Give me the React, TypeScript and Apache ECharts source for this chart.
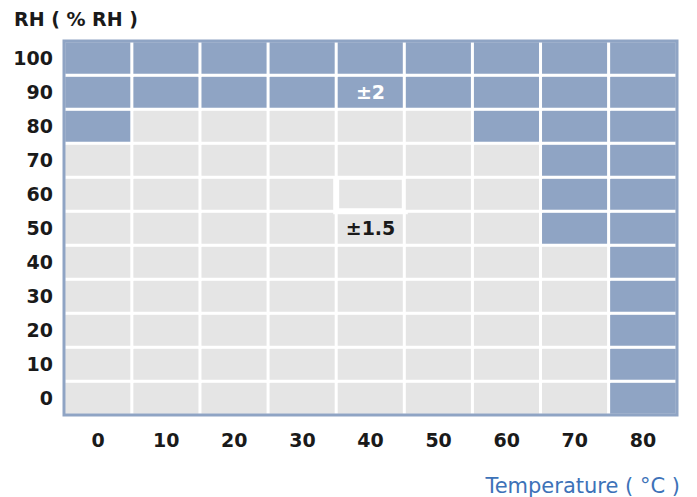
import React, { useEffect, useRef } from "react";
import * as echarts from "echarts";

const temps = ["0", "10", "20", "30", "40", "50", "60", "70", "80"];
const rhs = ["0", "10", "20", "30", "40", "50", "60", "70", "80", "90", "100"];
// For each RH row (bottom to top), the accuracy (±) per temperature column
const row0 = [1.5, 1.5, 1.5, 1.5, 1.5, 1.5, 1.5, 1.5, 2];
const row10 = [1.5, 1.5, 1.5, 1.5, 1.5, 1.5, 1.5, 1.5, 2];
const row20 = [1.5, 1.5, 1.5, 1.5, 1.5, 1.5, 1.5, 1.5, 2];
const row30 = [1.5, 1.5, 1.5, 1.5, 1.5, 1.5, 1.5, 1.5, 2];
const row40 = [1.5, 1.5, 1.5, 1.5, 1.5, 1.5, 1.5, 1.5, 2];
const row50 = [1.5, 1.5, 1.5, 1.5, 1.5, 1.5, 1.5, 2, 2];
const row60 = [1.5, 1.5, 1.5, 1.5, 1.5, 1.5, 1.5, 2, 2];
const row70 = [1.5, 1.5, 1.5, 1.5, 1.5, 1.5, 1.5, 2, 2];
const row80 = [2, 1.5, 1.5, 1.5, 1.5, 1.5, 2, 2, 2];
const row90 = [2, 2, 2, 2, 2, 2, 2, 2, 2];
const row100 = [2, 2, 2, 2, 2, 2, 2, 2, 2];
const rows = [row0, row10, row20, row30, row40, row50, row60, row70, row80, row90, row100];

const BLUE = "#8fa4c4";
const GRAY = "#e5e5e5";
const FONT = "'DejaVu Sans', sans-serif";

export default function App() {
  const ref = useRef<HTMLDivElement>(null);
  useEffect(() => {
    if (!ref.current) return;
    const chart = echarts.init(ref.current, null, { renderer: "svg" });
    const data: any[] = [];
    rows.forEach((row, yi) => {
      row.forEach((v, xi) => {
        const item: any = { value: [xi, yi, v] };
        if (xi === 4 && yi === 9) {
          item.label = { show: true, formatter: "±2", color: "#ffffff" };
        }
        if (xi === 4 && yi === 5) {
          item.label = { show: true, formatter: "±1.5", color: "#1a1a1a" };
        }
        if (xi === 4 && yi === 6) {
          item.itemStyle = { borderWidth: 6 };
        }
        data.push(item);
      });
    });
    const L = 64, T = 41, W = 613, H = 374;
    chart.setOption({
      animation: false,
      backgroundColor: "#ffffff",
      grid: { left: L, top: T, width: W, height: H, show: false },
      xAxis: {
        type: "category",
        data: temps,
        axisLine: { show: false },
        axisTick: { show: false },
        splitLine: { show: false },
        axisLabel: {
          margin: 15,
          color: "#1a1a1a",
          fontSize: 19,
          fontWeight: "bold",
          fontFamily: FONT,
        },
      },
      yAxis: {
        type: "category",
        data: rhs,
        axisLine: { show: false },
        axisTick: { show: false },
        splitLine: { show: false },
        axisLabel: {
          margin: 11,
          color: "#1a1a1a",
          fontSize: 19,
          fontWeight: "bold",
          fontFamily: FONT,
        },
      },
      visualMap: {
        show: false,
        type: "piecewise",
        dimension: 2,
        pieces: [
          { value: 2, color: BLUE },
          { value: 1.5, color: GRAY },
        ],
      },
      series: [
        {
          type: "heatmap",
          data,
          itemStyle: { borderColor: "#ffffff", borderWidth: 3 },
          label: {
            show: false,
            fontSize: 19,
            fontWeight: "bold",
            fontFamily: FONT,
          },
          emphasis: { disabled: true },
        },
      ],
      graphic: [
        {
          type: "rect",
          z: 100,
          shape: { x: L, y: T, width: W, height: H },
          style: { fill: "none", stroke: BLUE, lineWidth: 3 },
        },
        {
          type: "text",
          left: 14,
          top: 9,
          style: {
            text: "RH ( % RH )",
            fill: "#1a1a1a",
            font: "bold 19px 'DejaVu Sans', sans-serif",
          },
        },
        {
          type: "text",
          right: 17,
          top: 475,
          style: {
            text: "Temperature ( °C )",
            fill: "#3d72b8",
            font: "21px 'DejaVu Sans', sans-serif",
          },
        },
      ],
    });
    return () => chart.dispose();
  }, []);
  return (
    <div
      ref={ref}
      style={{ width: 697, height: 497, position: "absolute", left: 0, top: 0 }}
    />
  );
}
